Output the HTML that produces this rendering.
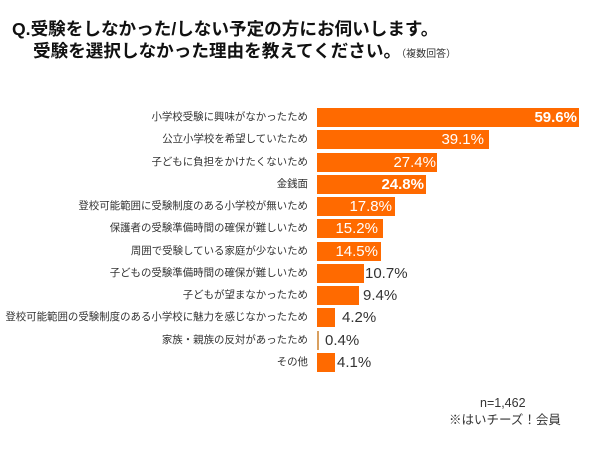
<!DOCTYPE html>
<html><head><meta charset="utf-8"><style>
html,body{margin:0;padding:0;background:#fff;}
body{width:600px;height:450px;position:relative;overflow:hidden;font-family:"Liberation Sans","Noto Sans CJK JP",sans-serif;}
.t{position:absolute;white-space:nowrap;color:#111;font-weight:bold;font-size:17.6px;line-height:20px;font-family:"Liberation Sans","Noto Sans CJK JP",sans-serif;}
.lab{position:absolute;right:292px;white-space:nowrap;font-size:10.45px;color:#333;line-height:19px;height:19px;font-family:"Liberation Sans","Noto Sans CJK JP",sans-serif;}
.bar{position:absolute;left:317px;height:19px;background:#ff6a00;}
.vi{position:absolute;white-space:nowrap;color:#fff;font-size:15px;line-height:19px;text-align:right;}
.vo{position:absolute;white-space:nowrap;color:#333;font-size:15px;line-height:19px;}
.b{font-weight:bold;}
.f{position:absolute;white-space:nowrap;color:#333;font-size:12.5px;line-height:16px;font-family:"Liberation Sans","Noto Sans CJK JP",sans-serif;}
</style></head><body>
<div class="t" style="left:12px;top:19px;">Q.受験をしなかった/しない予定の方にお伺いします。</div>
<div class="t" style="left:33px;top:41px;">受験を選択しなかった理由を教えてください。<span style="font-size:10px;font-weight:normal;color:#333;">（複数回答）</span></div>

<div class="lab" style="top:108px;">小学校受験に興味がなかったため</div>
<div class="lab" style="top:130.3px;">公立小学校を希望していたため</div>
<div class="lab" style="top:152.5px;">子どもに負担をかけたくないため</div>
<div class="lab" style="top:174.8px;">金銭面</div>
<div class="lab" style="top:197.1px;">登校可能範囲に受験制度のある小学校が無いため</div>
<div class="lab" style="top:219.4px;">保護者の受験準備時間の確保が難しいため</div>
<div class="lab" style="top:241.6px;">周囲で受験している家庭が少ないため</div>
<div class="lab" style="top:263.9px;">子どもの受験準備時間の確保が難しいため</div>
<div class="lab" style="top:286.2px;">子どもが望まなかったため</div>
<div class="lab" style="top:308.4px;">登校可能範囲の受験制度のある小学校に魅力を感じなかったため</div>
<div class="lab" style="top:330.7px;">家族・親族の反対があったため</div>
<div class="lab" style="top:353px;">その他</div>

<div class="bar" style="top:108px;width:262px;"></div>
<div class="bar" style="top:130.3px;width:172px;"></div>
<div class="bar" style="top:152.5px;width:120px;"></div>
<div class="bar" style="top:174.8px;width:109px;"></div>
<div class="bar" style="top:197.1px;width:78px;"></div>
<div class="bar" style="top:219.4px;width:66px;"></div>
<div class="bar" style="top:241.6px;width:64px;"></div>
<div class="bar" style="top:263.9px;width:47px;"></div>
<div class="bar" style="top:286.2px;width:42px;"></div>
<div class="bar" style="top:308.4px;width:18px;"></div>
<div class="bar" style="top:330.7px;width:2px;background:#d9a060;"></div>
<div class="bar" style="top:353px;width:18px;"></div>

<div class="vi b" style="top:108px;right:23px;">59.6%</div>
<div class="vi" style="top:130.3px;right:116px;">39.1%</div>
<div class="vi" style="top:152.5px;right:164px;">27.4%</div>
<div class="vi b" style="top:174.8px;right:176px;">24.8%</div>
<div class="vi" style="top:197.1px;right:208px;">17.8%</div>
<div class="vi" style="top:219.4px;right:222px;">15.2%</div>
<div class="vi" style="top:241.6px;right:222px;">14.5%</div>
<div class="vo" style="top:263.9px;left:365px;">10.7%</div>
<div class="vo" style="top:286.2px;left:363px;">9.4%</div>
<div class="vo" style="top:308.4px;left:342px;">4.2%</div>
<div class="vo" style="top:330.7px;left:325px;">0.4%</div>
<div class="vo" style="top:353px;left:337px;">4.1%</div>

<div class="f" style="top:395px;left:480px;">n=1,462</div>
<div class="f" style="top:412px;left:449px;">※はいチーズ！会員</div>
</body></html>
